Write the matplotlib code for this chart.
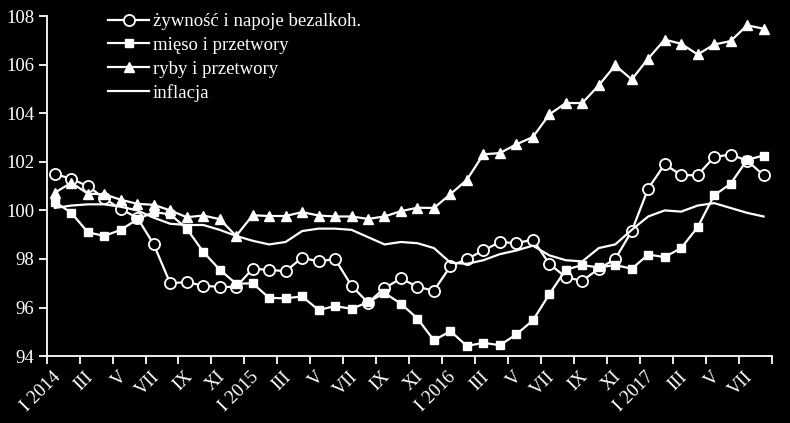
import numpy as np
import matplotlib
matplotlib.use('Agg')
import matplotlib.pyplot as plt
import matplotlib.transforms as mtrans

plt.rcParams['font.family'] = ['Liberation Serif', 'DejaVu Serif']

# miesiace I 2014 - VIII 2017
tick_labels = ['I 2014', 'III', 'V', 'VII', 'IX', 'XI',
               'I 2015', 'III', 'V', 'VII', 'IX', 'XI',
               'I 2016', 'III', 'V', 'VII', 'IX', 'XI',
               'I 2017', 'III', 'V', 'VII']

zywnosc = [101.5, 101.3, 101.0, 100.5, 100.05, 99.7, 98.6, 97.0, 97.05, 96.9, 96.85, 96.85,
           97.6, 97.55, 97.5, 98.05, 97.9, 98.0, 96.9, 96.2, 96.8, 97.2, 96.85, 96.7,
           97.7, 98.0, 98.35, 98.7, 98.65, 98.8, 97.8, 97.25, 97.1, 97.6, 98.0, 99.15,
           100.9, 101.9, 101.45, 101.45, 102.2, 102.3, 102.05, 101.45]
mieso = [100.35, 99.9, 99.1, 98.95, 99.2, 99.63, 99.93, 99.84, 99.25, 98.3, 97.56, 96.98,
         97.0, 96.4, 96.38, 96.46, 95.9, 96.06, 95.95, 96.22, 96.6, 96.16,
         95.55, 94.65, 95.03, 94.42, 94.55, 94.45, 94.9, 95.47, 96.55, 97.56, 97.75,
         97.65, 97.75, 97.6, 98.18, 98.08, 98.45, 99.31, 100.62, 101.1, 102.08, 102.26]
ryby = [100.73, 101.14, 100.69, 100.66, 100.44, 100.27, 100.23, 100.0, 99.72, 99.79, 99.64, 98.95,
        99.8, 99.77, 99.77, 99.93, 99.79, 99.75, 99.75, 99.65, 99.75, 99.97,
        100.11, 100.1, 100.67, 101.26, 102.31, 102.36, 102.72, 103.02, 103.95, 104.42, 104.42,
        105.15, 105.97, 105.39, 106.25, 107.03, 106.86, 106.42, 106.83, 106.97, 107.62, 107.48]
inflacja = [100.1, 100.2, 100.25, 100.25, 100.15, 100.0, 99.7, 99.45, 99.4, 99.4, 99.2, 98.95,
            98.75, 98.6, 98.7, 99.15, 99.25, 99.25, 99.2, 98.9, 98.6, 98.7, 98.65, 98.45,
            97.85, 97.8, 97.95, 98.2, 98.35, 98.55, 98.15, 97.95, 97.9, 98.45, 98.6, 99.2,
            99.75, 100.0, 99.95, 100.2, 100.3, 100.1, 99.9, 99.75]

x = np.arange(len(zywnosc))

fig = plt.figure(figsize=(7.9, 4.23), dpi=100, facecolor='black')
ax = fig.add_axes([0.059, 0.158, 0.918, 0.804], facecolor='black')

lw = 1.6
ax.plot(x, zywnosc, '-', color='white', lw=lw, marker='o', ms=8,
        mfc='black', mec='white', mew=1.3, label='żywność i napoje bezalkoh.')
ax.plot(x, mieso, '-', color='white', lw=lw, marker='s', ms=6,
        mfc='white', mec='white', label='mięso i przetwory')
ax.plot(x, ryby, '-', color='white', lw=lw, marker='^', ms=7.5,
        mfc='white', mec='white', label='ryby i przetwory')
ax.plot(x, inflacja, '-', color='white', lw=lw, label='inflacja')

ax.set_xlim(-0.5, len(x) - 0.5)
ax.set_ylim(94, 108)
ax.set_yticks(np.arange(94, 109, 2))
ax.set_xticks(np.arange(0, len(x), 2))
ax.set_xticklabels(tick_labels, rotation=45, ha='right', va='center', rotation_mode='anchor')
ax.set_xticks(np.arange(-0.5, len(x), 2), minor=True)
ax.tick_params(axis='x', which='major', length=0, pad=13, colors='white', labelsize=13.5)
ax.tick_params(axis='x', which='minor', length=6, width=1.3, colors='white', direction='out')
ax.tick_params(axis='y', length=6, width=1.3, colors='white', labelsize=13.5, pad=3)

# etykiety troche w prawo
shift = mtrans.ScaledTranslation(3 / 100, 0, fig.dpi_scale_trans)
for lab in ax.get_xticklabels():
    lab.set_transform(lab.get_transform() + shift)

for s in ['top', 'right']:
    ax.spines[s].set_visible(False)
for s in ['left', 'bottom']:
    ax.spines[s].set_color('white')
    ax.spines[s].set_linewidth(1.3)

leg = ax.legend(loc='upper left', bbox_to_anchor=(108 / 790, 1 - 13 / 423),
                bbox_transform=fig.transFigure, frameon=False, fontsize=13.5,
                handlelength=2.2, handletextpad=0.2, labelspacing=0.35,
                borderpad=0, borderaxespad=0, numpoints=1)
for t in leg.get_texts():
    t.set_color('white')

fig.savefig('out.png', dpi=100, facecolor='black')
